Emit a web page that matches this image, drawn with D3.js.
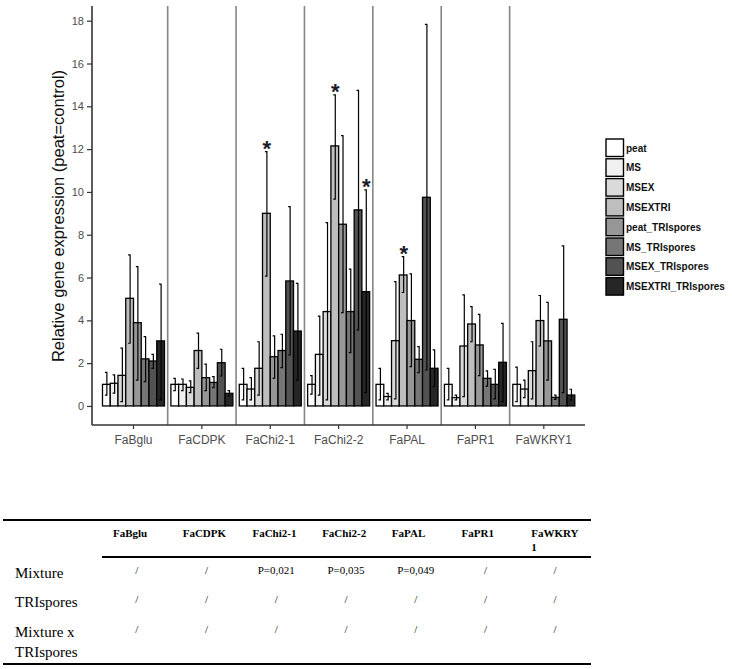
<!DOCTYPE html>
<html><head><meta charset="utf-8">
<script src="https://cdn.jsdelivr.net/npm/d3@7"></script>
<style>body{margin:0;background:#fff}svg{display:block}</style>
</head><body>
<svg id="c" width="732" height="669"></svg>
<script>
const genes = ["FaBglu","FaCDPK","FaChi2-1","FaChi2-2","FaPAL","FaPR1","FaWKRY1"];
const series = ["peat","MS","MSEX","MSEXTRI","peat_TRIspores","MS_TRIspores","MSEX_TRIspores","MSEXTRI_TRIspores"];
const colors = ["#ffffff","#f0f0f0","#dadada","#bebebe","#979797","#767676","#525252","#262626"];
// mean per gene (rows) x series (cols)
const means = [
  [1.01,1.06,1.43,5.03,3.89,2.20,2.10,3.04],
  [1.01,1.01,0.87,2.59,1.32,1.10,2.02,0.59],
  [1.01,0.79,1.76,9.00,2.30,2.59,5.84,3.50],
  [1.01,2.41,4.41,12.15,8.49,4.41,9.16,5.34],
  [1.01,0.44,3.05,6.12,3.99,2.18,9.75,1.76],
  [1.01,0.39,2.80,3.83,2.85,1.29,1.01,2.04],
  [1.01,0.79,1.65,3.99,3.04,0.40,4.05,0.51]
];
const errHi = [
  [1.57,1.45,2.70,7.06,6.51,3.24,2.41,5.69],
  [1.29,1.26,1.17,3.40,1.95,1.37,2.65,0.72],
  [1.76,1.32,3.00,11.88,3.27,3.35,9.31,5.73],
  [1.42,4.20,8.57,14.53,12.63,6.39,14.74,10.10],
  [1.76,0.59,5.81,6.98,6.17,2.77,17.83,2.62],
  [1.76,0.51,5.19,4.64,4.28,1.64,1.71,3.86],
  [1.81,1.21,3.00,5.16,4.84,0.51,7.48,0.78]
];
const errLo = [
  [0.51,0.60,0.20,2.93,1.21,1.14,1.76,0.28],
  [0.72,0.72,0.62,1.76,0.72,0.86,1.40,0.47],
  [0.28,0.28,0.51,6.07,1.29,1.79,2.38,1.21],
  [0.55,0.51,0.28,9.66,4.36,2.49,3.55,0.62],
  [0.28,0.28,0.33,5.30,1.84,1.56,1.68,0.90],
  [0.28,0.28,0.44,3.00,1.42,0.93,0.33,0.20],
  [0.20,0.39,0.33,2.80,1.21,0.31,0.62,0.28]
];
const yTicks = [0,2,4,6,8,10,12,14,16,18];
const significant = [["FaChi2-1","MSEXTRI"],["FaChi2-2","MSEXTRI"],["FaChi2-2","MSEXTRI_TRIspores"],["FaPAL","MSEXTRI"]];
const tableHeaders = ["FaBglu","FaCDPK","FaChi2-1","FaChi2-2","FaPAL","FaPR1","FaWKRY\n1"];
const tableRowLabels = ["Mixture","TRIspores","Mixture x\nTRIspores"];
const tableValues = [
  ["/","/","P=0,021","P=0,035","P=0,049","/","/"],
  ["/","/","/","/","/","/","/"],
  ["/","/","/","/","/","/","/"]
];

const svg = d3.select("#c");
const y = d3.scaleLinear().domain([-0.89,18.64]).range([425,7]);
const x = d3.scaleBand().domain(genes).range([99.3,578]).padding(0);
const xi = d3.scaleBand().domain(series).range([0,62]);
const inOff = (x.bandwidth()-62)/2;
const col = d3.scaleOrdinal().domain(series).range(colors);

// separators
svg.append("g").selectAll("line").data(genes.slice(1)).join("line")
  .attr("x1",d=>x(d)).attr("x2",d=>x(d)).attr("y1",6).attr("y2",425)
  .attr("stroke","#858585").attr("stroke-width",1.6);

// y axis
const yAxis = svg.append("g").attr("transform","translate(92,0)")
  .call(d3.axisLeft(y).tickValues(yTicks).tickSize(5).tickPadding(3));
yAxis.select(".domain").attr("d","M0,6V425").attr("stroke","#333").attr("stroke-width",1.6);
yAxis.selectAll(".tick line").attr("stroke","#333").attr("stroke-width",1.2);
yAxis.selectAll("text").attr("fill","#4d4d4d").style("font-family","Liberation Sans, Arial, sans-serif").style("font-size","11px");

// x axis
const xAxis = svg.append("g").attr("transform","translate(0,425)")
  .call(d3.axisBottom(x).tickSize(4).tickPadding(6));
xAxis.select(".domain").attr("d","M92,0H585").attr("stroke","#333").attr("stroke-width",1.6);
xAxis.selectAll(".tick line").attr("stroke","#333").attr("stroke-width",1.2);
xAxis.selectAll("text").attr("fill","#4d4d4d").style("font-family","Liberation Sans, Arial, sans-serif").style("font-size","12px");

// y label
svg.append("text").attr("transform","translate(64,216) rotate(-90)")
  .attr("text-anchor","middle").style("font-family","Liberation Sans, Arial, sans-serif")
  .style("font-size","16.5px").attr("fill","#111").text("Relative gene expression (peat=control)");

// bars
const data = [];
genes.forEach((g,gi)=>series.forEach((s,si)=>data.push({g,s,m:means[gi][si],hi:errHi[gi][si],lo:errLo[gi][si]})));
const bx = d => x(d.g)+inOff+xi(d.s);
svg.append("g").selectAll("rect").data(data).join("rect")
  .attr("x",d=>bx(d)).attr("width",xi.bandwidth())
  .attr("y",d=>y(d.m)).attr("height",d=>y(0)-y(d.m))
  .attr("fill",d=>col(d.s)).attr("stroke","#000").attr("stroke-width",1.3);

// error bars
const eb = svg.append("g").attr("stroke","#000").attr("stroke-width",1.2).attr("fill","none");
eb.selectAll("path").data(data).join("path")
  .attr("d",d=>{const cx=bx(d)+xi.bandwidth()/2+0.5;
    return `M${cx-2},${y(d.hi)}H${cx}V${y(d.lo)}H${cx-2}`;});

// stars
svg.append("g").selectAll("text").data(significant).join("text")
  .attr("x",d=>x(d[0])+inOff+xi(d[1])+xi.bandwidth()/2+0.5)
  .attr("y",d=>{const gi=genes.indexOf(d[0]),si=series.indexOf(d[1]);return y(errHi[gi][si])+4;})
  .attr("text-anchor","middle").style("font-family","Liberation Sans, Arial, sans-serif")
  .style("font-size","22px").style("font-weight","bold").attr("fill","#1a1a2a").text("*");

// legend
const lg = svg.append("g").attr("transform","translate(606,139)");
const li = lg.selectAll("g").data(series).join("g").attr("transform",(d,i)=>`translate(0,${i*19.8})`);
li.append("rect").attr("width",17.5).attr("height",17.5).attr("fill",d=>col(d)).attr("stroke","#000").attr("stroke-width",1.4);
li.append("text").attr("x",20).attr("y",12.5).style("font-family","Liberation Sans, Arial, sans-serif")
  .style("font-size","10px").style("font-weight","bold").attr("fill","#111").text(d=>d);

// table
const tc = d3.scaleBand().domain(d3.range(7)).range([102,590]);
const serif = "Liberation Serif, Times New Roman, serif";
svg.append("line").attr("x1",3).attr("x2",591).attr("y1",520).attr("y2",520).attr("stroke","#000").attr("stroke-width",2);
svg.append("line").attr("x1",102).attr("x2",591).attr("y1",557).attr("y2",557).attr("stroke","#000").attr("stroke-width",2);
svg.append("line").attr("x1",3).attr("x2",591).attr("y1",664).attr("y2",664).attr("stroke","#000").attr("stroke-width",2);
const hd = svg.append("g").selectAll("text").data(tableHeaders).join("text")
  .attr("x",(d,i)=>tc(i)+11).attr("y",537)
  .style("font-family",serif).style("font-size","11px").style("font-weight","bold").attr("fill","#000");
hd.each(function(d){const t=d3.select(this);d.split("\n").forEach((s,k)=>t.append("tspan").attr("x",t.attr("x")).attr("dy",k?13.5:0).text(s));});
const rowY = [578,607,637];
const rl = svg.append("g").selectAll("text").data(tableRowLabels).join("text")
  .attr("x",15).attr("y",(d,i)=>rowY[i]).style("font-family",serif).style("font-size","15px").attr("fill","#000");
rl.each(function(d){const t=d3.select(this);d.split("\n").forEach((s,k)=>t.append("tspan").attr("x",15).attr("dy",k?20:0).text(s));});
tableValues.forEach((row,ri)=>{
  svg.append("g").selectAll("text").data(row).join("text")
    .attr("x",(d,i)=>tc(i)+tc.bandwidth()/2).attr("y",rowY[ri]-4)
    .attr("text-anchor","middle").style("font-family",serif).style("font-size","11px").attr("fill","#000").text(d=>d);
});
</script>
</body></html>
